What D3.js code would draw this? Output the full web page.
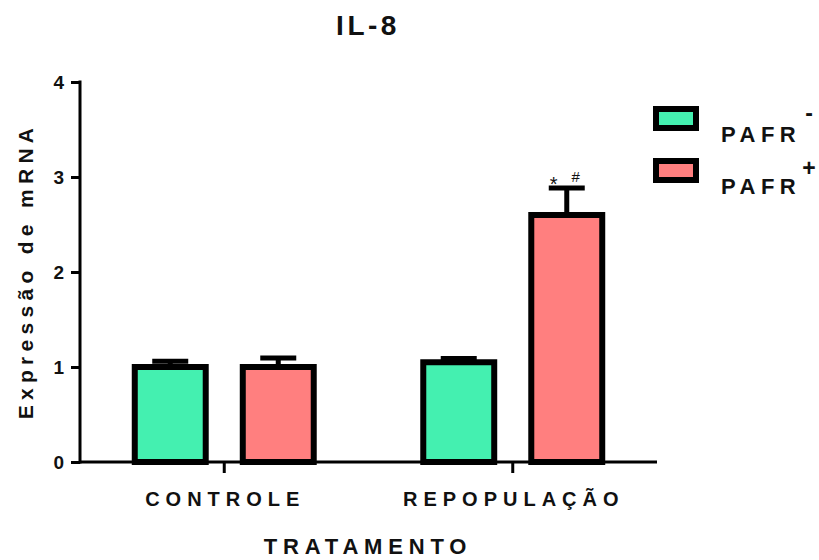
<!DOCTYPE html>
<html>
<head>
<meta charset="utf-8">
<script src="https://cdn.jsdelivr.net/npm/d3@7"></script>
<style>
  body { margin: 0; background: #fff; }
  svg text { font-family: "Liberation Sans", Arial, sans-serif; font-weight: bold; fill: #111; }
</style>
</head>
<body>
<div id="container"></div>
<script>
// data
let groups = ["CONTROLE", "REPOPULAÇÃO"];
let seriesNames = ["PAFR-", "PAFR+"];
let pafrNeg = [1.0, 1.05];
let pafrNegErr = [0.06, 0.04];
let pafrPos = [1.0, 2.6];
let pafrPosErr = [0.095, 0.285];
let yTicks = [0, 1, 2, 3, 4];
let marks = [{group: "REPOPULAÇÃO", series: "PAFR+", labels: ["*", "#"]}];

let w = 819, h = 560;
let plotLeft = 80, plotRight = 657, plotTop = 82, plotBottom = 462;
let colors = {"PAFR-": "#44F0B0", "PAFR+": "#FF7F7F"};

let svg = d3.select("#container").append("svg")
    .attr("width", w)
    .attr("height", h);

let rows = [];
groups.forEach((g, i) => {
  rows.push({group: g, series: "PAFR-", value: pafrNeg[i], err: pafrNegErr[i]});
  rows.push({group: g, series: "PAFR+", value: pafrPos[i], err: pafrPosErr[i]});
});

let x0 = d3.scaleBand().domain(groups).range([plotLeft, plotRight]);
let x1 = d3.scaleBand().domain(seriesNames).range([0, x0.bandwidth()])
    .paddingInner(0.343).paddingOuter(0.507);
let y = d3.scaleLinear().domain([0, 4]).range([plotBottom, plotTop]);

// bars
let barG = svg.append("g");
barG.selectAll("rect").data(rows).enter().append("rect")
    .attr("x", d => x0(d.group) + x1(d.series))
    .attr("y", d => y(d.value))
    .attr("width", x1.bandwidth())
    .attr("height", d => y(0) - y(d.value))
    .attr("fill", d => colors[d.series])
    .attr("stroke", "#000")
    .attr("stroke-width", 6);

// error bars (upper only)
let capW = 36;
let errG = svg.append("g").attr("stroke", "#000").attr("stroke-width", 5);
rows.forEach(d => {
  let cx = x0(d.group) + x1(d.series) + x1.bandwidth() / 2;
  errG.append("line")
      .attr("x1", cx).attr("x2", cx)
      .attr("y1", y(d.value)).attr("y2", y(d.value + d.err));
  errG.append("line")
      .attr("x1", cx - capW / 2).attr("x2", cx + capW / 2)
      .attr("y1", y(d.value + d.err)).attr("y2", y(d.value + d.err));
});

// significance marks
marks.forEach(m => {
  let row = rows.find(r => r.group == m.group && r.series == m.series);
  let cx = x0(m.group) + x1(m.series) + x1.bandwidth() / 2;
  let ty = y(row.value + row.err);
  svg.append("text").text(m.labels[0])
      .attr("x", cx - 13).attr("y", ty + 3)
      .attr("text-anchor", "middle")
      .style("font-size", "20px").style("font-weight", "normal");
  svg.append("text").text(m.labels[1])
      .attr("x", cx + 9).attr("y", ty - 6)
      .attr("text-anchor", "middle")
      .style("font-size", "15px").style("font-weight", "normal");
});

// y axis
let yAxis = d3.axisLeft(y).tickValues(yTicks).tickSize(9).tickPadding(7).tickFormat(d3.format("d"));
let yAxisGroup = svg.append("g")
    .attr("transform", "translate(" + plotLeft + ",0)")
    .call(yAxis);
yAxisGroup.select(".domain").attr("stroke-width", 3).attr("d", "M0," + (plotTop - 1.5) + "V" + (plotBottom + 1.5));
yAxisGroup.selectAll(".tick line").attr("stroke-width", 3);
yAxisGroup.selectAll(".tick text").style("font-size", "19px").attr("dy", "0.36em");

// x axis
let xAxisGroup = svg.append("g")
    .attr("transform", "translate(0," + plotBottom + ")");
xAxisGroup.append("line")
    .attr("x1", plotLeft).attr("x2", plotRight)
    .attr("stroke", "#000").attr("stroke-width", 3);
xAxisGroup.selectAll(".xtick").data(groups).enter().append("line")
    .attr("class", "xtick")
    .attr("x1", d => x0(d) + x0.bandwidth() / 2)
    .attr("x2", d => x0(d) + x0.bandwidth() / 2)
    .attr("y1", 0).attr("y2", 11)
    .attr("stroke", "#000").attr("stroke-width", 3);
let catSpacing = 6;
xAxisGroup.selectAll(".xlabel").data(groups).enter().append("text")
    .attr("class", "xlabel")
    .text(d => d)
    .attr("x", d => x0(d) + x0.bandwidth() / 2 + catSpacing / 2 - 2)
    .attr("y", 44)
    .attr("text-anchor", "middle")
    .style("font-size", "20px")
    .style("letter-spacing", catSpacing + "px");

// titles
svg.append("text").text("IL-8")
    .attr("x", 368).attr("y", 35)
    .attr("text-anchor", "middle")
    .style("font-size", "28px")
    .style("letter-spacing", "3.5px");

svg.append("text").text("TRATAMENTO")
    .attr("x", 368).attr("y", 554)
    .attr("text-anchor", "middle")
    .style("font-size", "22px")
    .style("letter-spacing", "5.8px");

svg.append("text").text("Expressão de mRNA")
    .attr("transform", "translate(33," + 271 + ") rotate(-90)")
    .attr("text-anchor", "middle")
    .style("font-size", "21px")
    .style("letter-spacing", "5.3px");

// legend
let legend = svg.append("g").attr("transform", "translate(656,109)");
seriesNames.forEach((s, i) => {
  let g = legend.append("g").attr("transform", "translate(0," + (i * 52) + ")");
  g.append("rect")
      .attr("width", 40).attr("height", 19)
      .attr("fill", colors[s]).attr("stroke", "#000").attr("stroke-width", 6);
  g.append("text").text("PAFR")
      .attr("x", 65).attr("y", 33)
      .style("font-size", "22px")
      .style("letter-spacing", "5.5px");
  g.append("text").text(s.slice(-1))
      .attr("x", 153).attr("y", i == 0 ? 12 : 15)
      .attr("text-anchor", "middle")
      .style("font-size", "23px");
});
</script>
</body>
</html>
